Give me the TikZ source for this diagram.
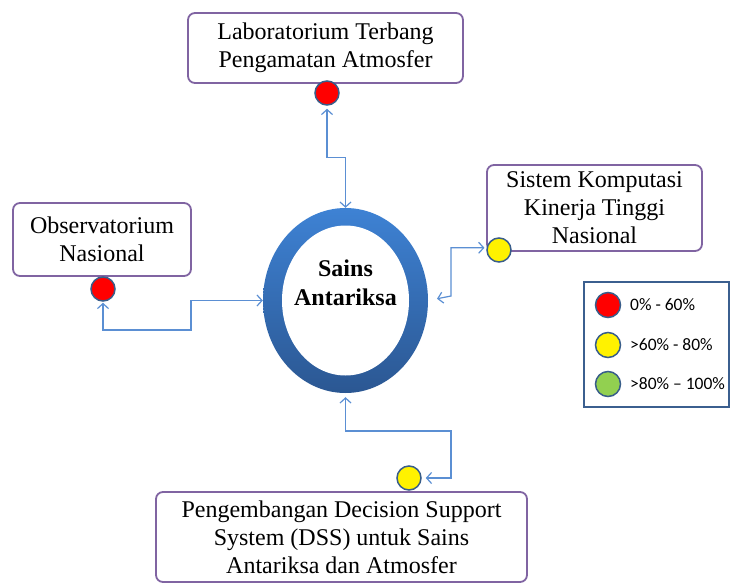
\documentclass[tikz,border=0pt]{standalone}
\usepackage{fontspec}
\setmainfont{Liberation Serif}
\newfontfamily\legendfont{Carlito}
\usetikzlibrary{arrows.meta,shapes.geometric}

\definecolor{boxline}{HTML}{8064A2}
\definecolor{dotline}{HTML}{385D8A}
\definecolor{linkblue}{HTML}{5B8FD3}
\definecolor{ringtop}{HTML}{3E82D4}
\definecolor{ringbot}{HTML}{2B5792}
\definecolor{legline}{HTML}{3B5F8F}
\definecolor{dotgreen}{HTML}{92D050}

\tikzset{
  unitbox/.style={draw=boxline, line width=1.8pt, rounded corners=7pt, fill=white,
    align=center, inner sep=0pt, font=\fontsize{24}{28}\selectfont},
  dot/.style={circle, draw=dotline, line width=1.5pt, minimum size=24pt, inner sep=0pt},
  legdot/.style={circle, draw=dotline, line width=1.5pt, minimum size=25pt, inner sep=0pt},
  link/.style={draw=linkblue, line width=1.2pt,
    {Straight Barb[length=5pt,width=11pt]}-{Straight Barb[length=5pt,width=11pt]}},
  legtext/.style={anchor=west, inner sep=0pt, font=\legendfont\fontsize{17.5}{19}\selectfont},
}

\begin{document}
\begin{tikzpicture}[x=1pt,y=-1pt]
\useasboundingbox (0,0) rectangle (731,584);

% central ring
\node[ellipse, minimum width=165pt, minimum height=185pt, inner sep=0pt,
      top color=ringtop, bottom color=ringbot] (sa) at (345.5,300.5) {};
\node[ellipse, minimum width=127pt, minimum height=150pt, inner sep=0pt, fill=white]
      (sain) at (345.5,300.5) {};
\node[align=center, font=\bfseries\fontsize{24}{29}\selectfont] (satext) at (345.5,283)
      {Sains\\Antariksa};

% programme boxes
\node[unitbox, minimum width=275pt, minimum height=70pt] (lab) at (325.5,48)
      {Laboratorium Terbang\\Pengamatan Atmosfer};
\node[unitbox, minimum width=178pt, minimum height=73pt] (obs) at (102,239.5)
      {Observatorium\\Nasional};
\node[unitbox, minimum width=215pt, minimum height=86pt] (hpc) at (594.5,208)
      {Sistem Komputasi\\Kinerja Tinggi\\Nasional};
\node[unitbox, minimum width=371pt, minimum height=90pt] (dss) at (341.5,537)
      {Pengembangan Decision Support\\System (DSS) untuk Sains\\Antariksa dan Atmosfer};

% status dots
\node[dot, fill=red]    (c1) at (327,93)  {};
\node[dot, fill=red]    (c2) at (103,289) {};
\node[dot, fill=yellow] (c3) at (499,250) {};
\node[dot, fill=yellow] (c4) at (409,478) {};

% connectors
\draw[link, shorten <=3pt] (c1.south) -- ++(0,52) -| (sa.north);
\draw[link, shorten <=1pt] (c2.south) |- (191,330) |- (sa.west);
\draw[link, shorten <=2pt, shorten >=9pt] (c3.170) -| (451,296) -- (sa.east);
\draw[link, shorten <=4pt, shorten >=4pt] (c4.east) -| (451,431) -| (sa.south);

% legend
\node[draw=legline, line width=1.8pt, minimum width=145pt, minimum height=125pt,
      inner sep=0pt] (leg) at (656.5,344.5) {};
\node[legdot, fill=red]      (l1) at (608,305) {};
\node[legdot, fill=yellow]   (l2) at (608,345) {};
\node[legdot, fill=dotgreen] (l3) at (608,384) {};
\node[legtext] (t1) at (630,305) {0\% - 60\%};
\node[legtext] (t2) at (630,345) {>60\% - 80\%};
\node[legtext] (t3) at (630,384) {>80\% – 100\%};
\end{tikzpicture}
\end{document}
